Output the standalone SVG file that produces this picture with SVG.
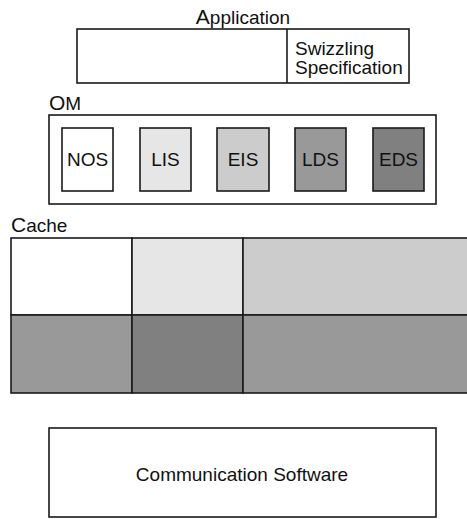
<svg xmlns="http://www.w3.org/2000/svg" width="467" height="519" viewBox="0 0 467 519">
<style>
  .box { stroke: #1a1a1a; stroke-width: 1.6; }
  .t { font-family: "Liberation Sans", Arial, sans-serif; font-size: 19px; fill: #111; }
  .c { text-anchor: middle; }
  .big { font-size: 21px; }
</style>
<rect width="467" height="519" fill="#ffffff"/>

<g id="application">
  <text class="t c" x="243" y="24"><tspan class="big">A</tspan>pplication</text>
  <rect class="box" x="77" y="29" width="332" height="54" fill="#ffffff"/>
  <line class="box" x1="287" y1="29" x2="287" y2="83"/>
</g>
<g id="swizzling-spec">
  <text class="t" x="295" y="55">Swizzling</text>
  <text class="t" x="295" y="74">Specification</text>
</g>

<g id="om">
  <text class="t" x="49" y="110"><tspan class="big">O</tspan>M</text>
  <rect class="box" x="49" y="115" width="387" height="89" fill="#ffffff"/>
</g>
<g id="nos">
  <rect class="box" x="62" y="128" width="51" height="63" fill="#ffffff"/>
  <text class="t c" x="87.5" y="166">NOS</text>
</g>
<g id="lis">
  <rect class="box" x="140" y="128" width="51" height="63" fill="#e6e6e6"/>
  <text class="t c" x="165.5" y="166">LIS</text>
</g>
<g id="eis">
  <rect class="box" x="217" y="128" width="52" height="63" fill="#cccccc"/>
  <text class="t c" x="243" y="166">EIS</text>
</g>
<g id="lds">
  <rect class="box" x="295" y="128" width="51" height="63" fill="#999999"/>
  <text class="t c" x="320.5" y="166">LDS</text>
</g>
<g id="eds">
  <rect class="box" x="373" y="128" width="51" height="63" fill="#808080"/>
  <text class="t c" x="398.5" y="166">EDS</text>
</g>

<g id="cache">
  <text class="t" x="11" y="232"><tspan class="big">C</tspan>ache</text>
  <rect class="box" x="11" y="238" width="121" height="77" fill="#ffffff"/>
  <rect class="box" x="132" y="238" width="111" height="77" fill="#e6e6e6"/>
  <rect class="box" x="243" y="238" width="240" height="77" fill="#cccccc"/>
  <rect class="box" x="11" y="315" width="121" height="78" fill="#999999"/>
  <rect class="box" x="132" y="315" width="111" height="78" fill="#808080"/>
  <rect class="box" x="243" y="315" width="240" height="78" fill="#999999"/>
</g>

<g id="communication-software">
  <rect class="box" x="49" y="428" width="387" height="89" fill="#ffffff"/>
  <text class="t c" x="242" y="481">Communication Software</text>
</g>

<g id="connectors"></g>
</svg>
